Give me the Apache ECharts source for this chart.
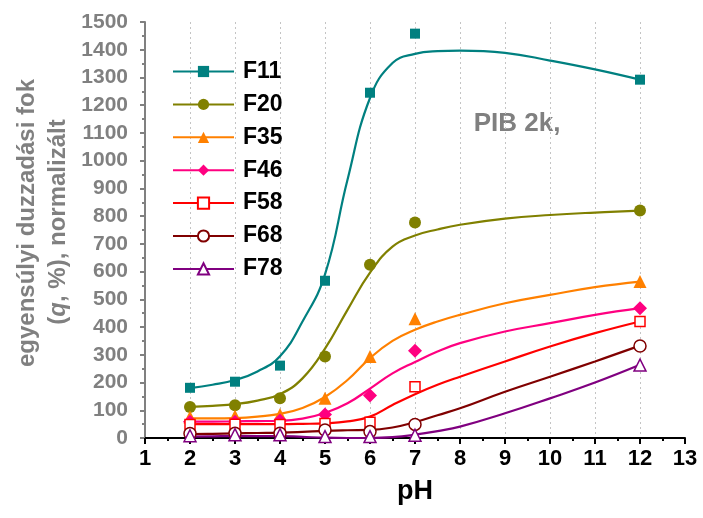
<!DOCTYPE html>
<html>
<head>
<meta charset="utf-8">
<script src="https://cdn.jsdelivr.net/npm/echarts@6/dist/echarts.min.js"></script>
<style>html,body{margin:0;padding:0;background:#fff;}#chart{width:703px;height:518px;}</style>
</head>
<body>
<div id="chart"></div>
<script>
// measured data points
const pH = [2, 3, 4, 5, 6, 7, 12];
const F11 = [181, 203, 261, 567, 1245, 1458, 1292];
const F20 = [112, 118, 143, 294, 625, 777, 820];
const F35 = [76, 79, 85, 143, 294, 430, 564];
const F46 = [59, 59, 63, 85, 153, 315, 468];
const F58 = [49, 50, 49, 52, 57, 185, 420];
const F68 = [16, 17, 17, 29, 23, 49, 332];
const F78 = [8, 12, 12, 5, 5, 10, 263];

// fitted curves
const fitX = [2, 2.5, 3, 3.5, 4, 4.5, 5, 5.5, 6, 6.5, 7, 7.5, 8, 9, 10, 11, 12];
const F11c = [180, 192, 209, 240, 295, 420, 590, 931, 1226, 1352, 1385, 1395, 1397, 1389, 1361, 1329, 1292];
const F20c = [112, 116, 122, 135, 158, 215, 322, 462, 596, 690, 730, 752, 769, 791, 804, 813, 820];
const F35c = [71, 71, 72, 77, 87, 108, 148, 209, 288, 350, 390, 420, 444, 486, 516, 544, 564];
const F46c = [59, 59, 60, 61, 62, 70, 90, 125, 178, 233, 274, 312, 342, 384, 414, 444, 468];
const F58c = [50, 50, 50, 50, 50, 51, 53, 60, 77, 119, 158, 192, 221, 276, 330, 378, 420];
const F68c = [14, 15, 17, 18, 19, 22, 26, 28, 29, 38, 57, 82, 107, 167, 221, 276, 333];
const F78c = [5, 6, 7, 7, 7, 4, 1, 0, 0, 3, 12, 25, 41, 89, 143, 200, 264];

const names = ['F11', 'F20', 'F35', 'F46', 'F58', 'F68', 'F78'];
const pts = [F11, F20, F35, F46, F58, F68, F78];
const fits = [F11c, F20c, F35c, F46c, F58c, F68c, F78c];
const colors = ['#008080', '#808000', '#FF8000', '#FF0080', '#FF0000', '#800000', '#800080'];
const symbols = ['rect', 'circle', 'triangle', 'diamond', 'rect', 'circle', 'triangle'];
const symSizes = [10, 12, 13, 14, 10, 12, 12];
const hollow = [false, false, false, false, true, true, true];

const zip = (xs, ys) => xs.map((x, i) => [x, ys[i]]);

const series = [];
names.forEach((n, i) => {
  const itemStyle = hollow[i]
    ? { color: '#ffffff', borderColor: colors[i], borderWidth: 1.5, opacity: 1 }
    : { color: colors[i], opacity: 1 };
  series.push({
    name: n, type: 'line', data: zip(fitX, fits[i]),
    smooth: 0.45,
    showSymbol: false, symbol: symbols[i], symbolSize: 12,
    lineStyle: { color: colors[i], width: 2.2 },
    itemStyle: itemStyle, z: 2, silent: true
  });
});
names.forEach((n, i) => {
  const itemStyle = hollow[i]
    ? { color: '#ffffff', borderColor: colors[i], borderWidth: 1.5, opacity: 1 }
    : { color: colors[i], opacity: 1 };
  series.push({
    name: n, type: 'scatter', data: zip(pH, pts[i]),
    symbol: symbols[i], symbolSize: symSizes[i],
    itemStyle: itemStyle, z: 3, silent: true
  });
});

const chart = echarts.init(document.getElementById('chart'), null, { renderer: 'canvas' });
chart.setOption({
  animation: false,
  backgroundColor: '#ffffff',
  grid: { left: 145, right: 18, top: 22, bottom: 80, containLabel: false },
  legend: {
    data: names, orient: 'vertical', left: 172, top: 60,
    itemWidth: 61, itemHeight: 14, itemGap: 9.9, padding: 0,
    textStyle: { fontSize: 23, fontWeight: 'bold', color: '#000', fontFamily: 'Liberation Sans, Arial, sans-serif', padding: [0, 0, 0, 4] },
    selectedMode: false
  },
  xAxis: {
    type: 'value', min: 1, max: 13, interval: 1,
    name: 'pH', nameLocation: 'middle', nameGap: 40,
    nameTextStyle: { fontSize: 27, fontWeight: 'bold', color: '#000', fontFamily: 'Liberation Sans, Arial, sans-serif' },
    axisLine: { show: true, onZero: false, lineStyle: { color: '#000', width: 2 } },
    axisTick: { show: true, length: 6, lineStyle: { color: '#000', width: 2 } },
    minorTick: { show: true, splitNumber: 2, length: 3, lineStyle: { color: '#000', width: 2 } },
    axisLabel: { fontSize: 22, fontWeight: 'bold', color: '#000', margin: 10, fontFamily: 'Liberation Sans, Arial, sans-serif' },
    splitLine: { show: true, showMinLine: false, showMaxLine: false, lineStyle: { color: '#c4c4c4', type: [2, 3], width: 1 } }
  },
  yAxis: {
    type: 'value', min: 0, max: 1500, interval: 100,
    axisLine: { show: true, lineStyle: { color: '#808080', width: 2 } },
    axisTick: { show: true, length: 5, lineStyle: { color: '#808080', width: 2 } },
    minorTick: { show: true, splitNumber: 2, length: 3, lineStyle: { color: '#808080', width: 2 } },
    axisLabel: { fontSize: 21, fontWeight: 'bold', color: '#808080', margin: 17, fontFamily: 'Liberation Sans, Arial, sans-serif', formatter: v => String(v) },
    splitLine: { show: false }
  },
  graphic: [
    {
      type: 'text', x: 27, y: 223, rotation: Math.PI / 2,
      style: {
        text: 'egyensúlyi duzzadási fok', fill: '#808080',
        font: 'bold 24px "Liberation Sans", Arial, sans-serif',
        align: 'center', verticalAlign: 'middle'
      }
    },
    {
      type: 'text', x: 58, y: 222, rotation: Math.PI / 2,
      style: {
        text: '({i|q}, %), normalizált', fill: '#808080',
        font: 'bold 24px "Liberation Sans", Arial, sans-serif',
        align: 'center', verticalAlign: 'middle',
        rich: { i: { fontStyle: 'italic', fontWeight: 'bold', fontSize: 24, fill: '#808080', fontFamily: 'Liberation Sans' } }
      }
    },
    {
      type: 'text', x: 517, y: 124,
      style: {
        text: 'PIB 2k,', fill: '#808080',
        font: 'bold 26px "Liberation Sans", Arial, sans-serif',
        align: 'center', verticalAlign: 'middle'
      }
    }
  ],
  series: series
});
</script>
</body>
</html>
